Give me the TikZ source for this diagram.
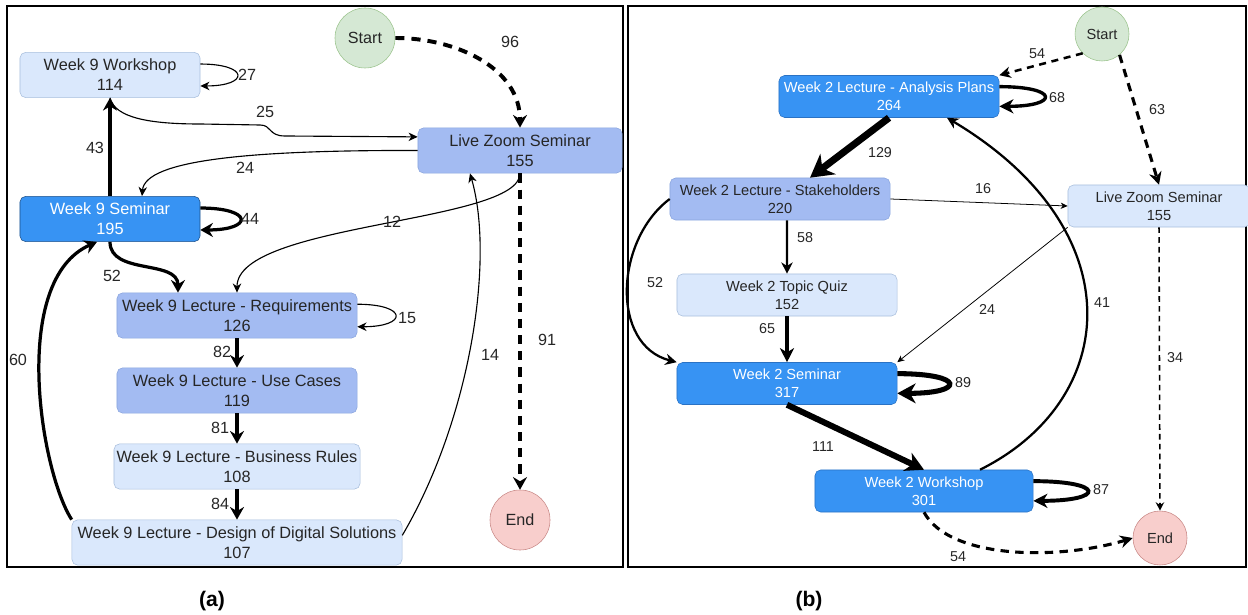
\documentclass[tikz,border=0pt]{standalone}
\usepackage{fontspec}
\setmainfont{Liberation Sans}
\usetikzlibrary{arrows.meta}

\definecolor{lightfill}{HTML}{DAE8FC}
\definecolor{lightline}{HTML}{A9BFDD}
\definecolor{midfill}{HTML}{A3BBF2}
\definecolor{midline}{HTML}{8AA5DE}
\definecolor{darkfill}{HTML}{3793F3}
\definecolor{darkline}{HTML}{2A72C4}
\definecolor{startfill}{HTML}{D5E8D4}
\definecolor{startline}{HTML}{9CC48E}
\definecolor{endfill}{HTML}{F8CECC}
\definecolor{endline}{HTML}{C98A88}

\begin{document}
\begin{tikzpicture}[x=0.025cm, y=-0.025cm,
        state/.style={rounded corners=4pt, align=center, inner sep=0pt, text=black!85},
        sa/.style={state, font=\fontsize{11.6}{14.2}\selectfont, minimum height=1.13cm},
        sb/.style={state, font=\fontsize{10.4}{12.8}\selectfont, minimum height=1.05cm},
        lightbox/.style={fill=lightfill, draw=lightline},
        midbox/.style={fill=midfill, draw=midline},
        darkbox/.style={fill=darkfill, draw=darkline, text=white},
        startbox/.style={circle, inner sep=0pt, fill=startfill, draw=startline, text=black!85},
        endbox/.style={circle, inner sep=0pt, fill=endfill, draw=endline, text=black!85},
        lbla/.style={inner sep=0pt, text=black!85, font=\fontsize{11.5}{12}\selectfont},
        lblb/.style={inner sep=0pt, text=black!85, font=\fontsize{10.2}{11}\selectfont},
        fhair/.style={line width=0.55pt, -{Stealth[length=5pt, width=4.5pt, inset=1.5pt]}},
        fone/.style={line width=0.8pt, -{Stealth[length=6.5pt, width=6pt, inset=2pt]}},
        fthicka/.style={line width=2.3pt, -{Stealth[length=9pt, width=10pt, inset=3pt]}},
        fmidb/.style={line width=1.6pt, -{Stealth[length=8pt, width=8pt, inset=2.5pt]}},
        fthickb/.style={line width=2.4pt, -{Stealth[length=10pt, width=10pt, inset=3pt]}},
        fheavy/.style={line width=3.6pt, -{Stealth[length=13pt, width=14pt, inset=4pt]}},
        fmax/.style={line width=5pt, -{Stealth[length=16pt, width=18pt, inset=5pt]}},
        dasha/.style={line width=2.8pt, dash pattern=on 6.5pt off 5pt, -{Stealth[length=9pt, width=10pt, inset=3pt]}},
        dashb/.style={line width=1.8pt, dash pattern=on 5pt off 4pt, -{Stealth[length=8pt, width=8pt, inset=2.5pt]}},
        dashc/.style={line width=2.2pt, dash pattern=on 6pt off 4.5pt, -{Stealth[length=9pt, width=9pt, inset=3pt]}},
        dashd/.style={line width=1.1pt, dash pattern=on 4pt off 3pt, -{Stealth[length=6pt, width=6pt, inset=2pt]}}]
    \useasboundingbox (0,0) rectangle (1248,615);
    \draw[line width=1.2pt] (7,6) rectangle (623,567);
    \draw[line width=1.2pt] (628,6) rectangle (1246,567);

    \node[startbox, minimum size=1.5cm, font=\fontsize{11.5}{12}\selectfont] (st1) at (365,38) {Start};
    \node[sa, lightbox, minimum width=4.5cm] (wk9w) at (110,75) {Week 9 Workshop\\114};
    \node[sa, midbox, minimum width=5.1cm] (zoom1) at (520,150.5) {Live Zoom Seminar\\155};
    \node[sa, darkbox, minimum width=4.5cm, draw=darkline!70!black] (sem9) at (110,219) {Week 9 Seminar\\195};
    \node[sa, midbox, minimum width=6cm] (req) at (237,315.5) {Week 9 Lecture - Requirements\\126};
    \node[sa, midbox, minimum width=6cm] (uc) at (237,390.5) {Week 9 Lecture - Use Cases\\119};
    \node[sa, lightbox, minimum width=6.15cm] (br) at (237,466.5) {Week 9 Lecture - Business Rules\\108};
    \node[sa, lightbox, minimum width=8.25cm] (dds) at (237,542.5) {Week 9 Lecture - Design of Digital Solutions\\107};
    \node[endbox, minimum size=1.5cm, font=\fontsize{11.5}{12}\selectfont] (end1) at (520,520) {End};

    \draw[dasha] (st1.east) to[out=0, in=90] (zoom1.north);
    \draw[dasha] (zoom1.south) -- (end1.north);
    \draw[fone] ([yshift=7.8pt]wk9w.east) .. controls +(1.23cm,0) and +(1.23cm,0) .. ([yshift=-7.8pt]wk9w.east);
    \draw[fone] (wk9w.south) .. controls (115,118) and (150,124) .. (200,124) -- (260,125)
        .. controls (272,125) and (268,136) .. (285,136) -- ([yshift=0.34cm]zoom1.west);
    \draw[fone] (zoom1.west) .. controls (250,150) and (145,160) .. ([xshift=0.8cm]sem9.north);
    \draw[fthicka] (sem9.north) -- (wk9w.south);
    \draw[fthicka] ([yshift=7.8pt]sem9.east) .. controls +(1.33cm,0) and +(1.33cm,0) .. ([yshift=-7.8pt]sem9.east);
    \draw[fthicka] (sem9.south) to[out=-90, in=90] ([xshift=-1.475cm]req.north);
    \draw[fone] (zoom1.south) .. controls +(0,50) and +(0,-70) .. (req.north);
    \draw[fone] ([yshift=8pt]req.east) .. controls +(1.27cm,0) and +(1.27cm,0) .. ([yshift=-8pt]req.east);
    \draw[fthicka] (req.south) -- (uc.north);
    \draw[fthicka] (uc.south) -- (br.north);
    \draw[fthicka] (br.south) -- (dds.north);
    \draw[fthicka] (dds.north west) .. controls (40,470) and (10,280) .. ([xshift=-0.325cm]sem9.south);
    \draw[fone] ([yshift=0.18cm]dds.east) .. controls (470,420) and (495,260) .. ([xshift=-1.25cm]zoom1.south);

    \node[lbla] (l96) at (510,42) {96};
    \node[lbla] (l91) at (547,340) {91};
    \node[lbla] (l27) at (247,75) {27};
    \node[lbla] (l25) at (265,112) {25};
    \node[lbla] (l24a) at (245,168) {24};
    \node[lbla] (l43) at (95,148) {43};
    \node[lbla] (l44) at (250,219) {44};
    \node[lbla] (l52a) at (112,276) {52};
    \node[lbla] (l12) at (392,222) {12};
    \node[lbla] (l15) at (407,318) {15};
    \node[lbla] (l82) at (222,352) {82};
    \node[lbla] (l81) at (220,428) {81};
    \node[lbla] (l84) at (220,504) {84};
    \node[lbla] (l60) at (18,360) {60};
    \node[lbla] (l14) at (490,355) {14};

    \node[startbox, minimum size=1.35cm, font=\fontsize{10.4}{11}\selectfont] (st2) at (1102,34) {Start};
    \node[sb, darkbox, minimum width=5.5cm] (ap) at (889,96.5) {Week 2 Lecture - Analysis Plans\\264};
    \node[sb, midbox, minimum width=5.5cm] (sh) at (780,199) {Week 2 Lecture - Stakeholders\\220};
    \node[sb, lightbox, minimum width=4.55cm] (zoom2) at (1159,206) {Live Zoom Seminar\\155};
    \node[sb, lightbox, minimum width=5.5cm] (tq) at (787,295) {Week 2 Topic Quiz\\152};
    \node[sb, darkbox, minimum width=5.5cm] (sem2) at (787,383.5) {Week 2 Seminar\\317};
    \node[sb, darkbox, minimum width=5.45cm] (wk2) at (924,491) {Week 2 Workshop\\301};
    \node[endbox, minimum size=1.35cm, font=\fontsize{10.4}{11}\selectfont] (end2) at (1160,538) {End};

    \draw[dashb] (st2.225) -- (ap.north east);
    \draw[dashc] (st2.-50) -- (zoom2.north);
    \draw[fmax] (ap.south) -- ([xshift=0.75cm]sh.north);
    \draw[fthickb] ([yshift=7pt]ap.east) .. controls +(1.5cm,0) and +(1.5cm,0) .. ([yshift=-7pt]ap.east);
    \draw[fhair] (sh.east) -- (zoom2.west);
    \draw[fmidb] ([xshift=0.175cm]sh.south) -- (tq.north);
    \draw[fthickb] (tq.south) -- (sem2.north);
    \draw[fmidb] (sh.west) .. controls (615,240) and (610,345) .. (sem2.north west);
    \draw[fhair] (zoom2.south west) -- (sem2.north east);
    \draw[dashd] (zoom2.south) -- (end2.north);
    \draw[fheavy] ([yshift=7pt]sem2.east) .. controls +(1.7cm,0) and +(1.7cm,0) .. ([yshift=-7pt]sem2.east);
    \draw[fheavy, line width=4.3pt] (sem2.south) -- (wk2.north);
    \draw[fthickb, line width=2.8pt] ([yshift=7pt]wk2.east) .. controls +(1.8cm,0) and +(1.8cm,0) .. ([yshift=-7pt]wk2.east);
    \draw[fmidb] ([xshift=1.4cm]wk2.north) .. controls (1120,400) and (1135,230) .. ([xshift=1.45cm]ap.south);
    \draw[dashc] (wk2.south) .. controls (950,560) and (1060,560) .. (end2.west);

    \node[lblb] (l54a) at (1037,54) {54};
    \node[lblb] (l63) at (1157,110) {63};
    \node[lblb] (l68) at (1057,98) {68};
    \node[lblb] (l129) at (880,153) {129};
    \node[lblb] (l16) at (983,189) {16};
    \node[lblb] (l58) at (805,238) {58};
    \node[lblb] (l52b) at (655,283) {52};
    \node[lblb] (l65) at (767,329) {65};
    \node[lblb] (l24b) at (987,309) {24};
    \node[lblb] (l41) at (1102,303) {41};
    \node[lblb] (l34) at (1175,358) {34};
    \node[lblb] (l89) at (963,383) {89};
    \node[lblb] (l111) at (823,447) {111};
    \node[lblb] (l87) at (1101,490) {87};
    \node[lblb] (l54b) at (958,557) {54};

    \node[font=\fontsize{15}{15}\selectfont\bfseries] (capa) at (212,601) {(a)};
    \node[font=\fontsize{15}{15}\selectfont\bfseries] (capb) at (809,601) {(b)};
\end{tikzpicture}
\end{document}
